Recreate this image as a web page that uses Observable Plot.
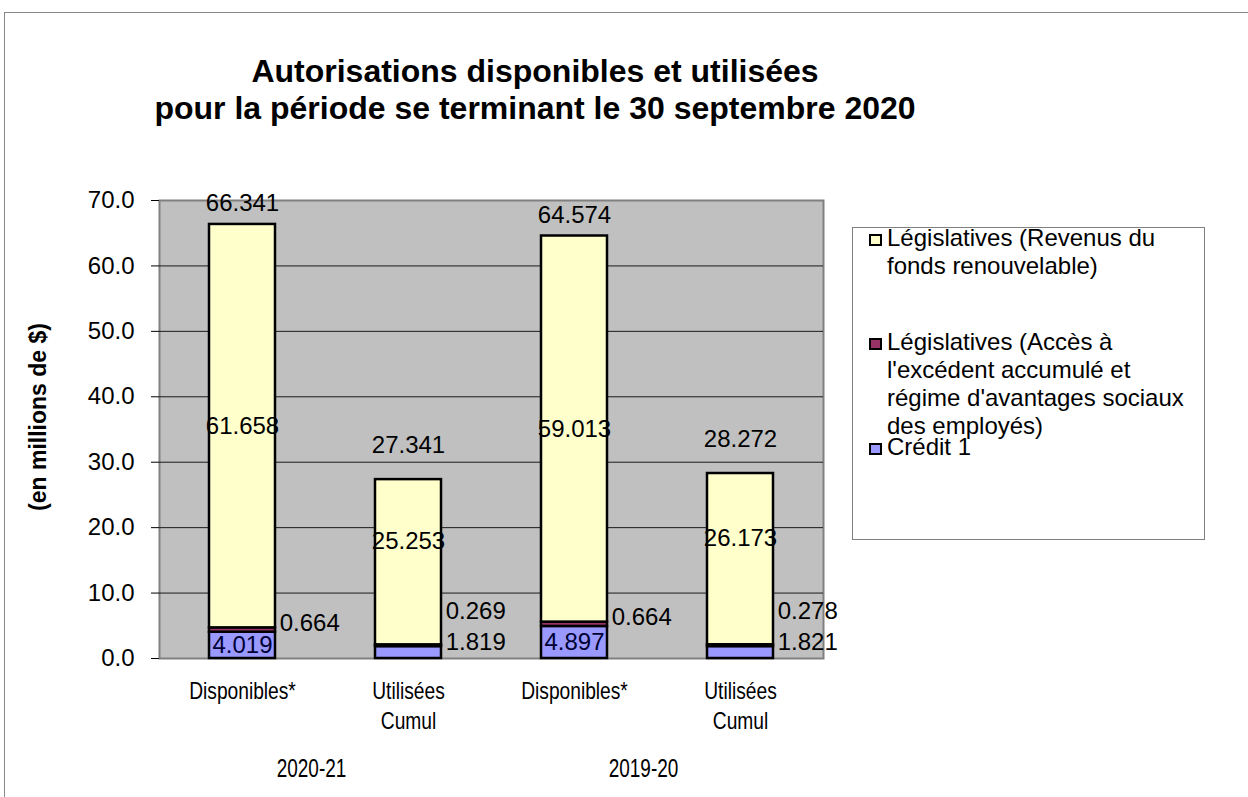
<!DOCTYPE html>
<html><head><meta charset="utf-8">
<script src="https://cdn.jsdelivr.net/npm/d3@7"></script>
<script src="https://cdn.jsdelivr.net/npm/@observablehq/plot@0.6"></script>
<style>
body{margin:0;background:#fff;font-family:"Liberation Sans",Arial,sans-serif;color:#000;}
#wrap{position:relative;width:1248px;height:797px;overflow:hidden;}
#border{position:absolute;left:4px;top:12px;width:1400px;height:1000px;border-left:1px solid #888;border-top:1px solid #888;}
#chart{position:absolute;left:0;top:0;}
#title{position:absolute;left:0;top:53px;width:1070px;text-align:center;font-weight:bold;font-size:32px;line-height:37px;white-space:nowrap;}
#ylabel{position:absolute;left:38px;top:417px;transform:translate(-50%,-50%) rotate(-90deg);font-weight:bold;font-size:23px;white-space:nowrap;}
#legend{position:absolute;left:852px;top:227px;width:353px;height:313px;border:1px solid #808080;box-sizing:border-box;background:#fff;}
.entry{position:absolute;left:0;}
.swatch{position:absolute;left:16px;width:9px;height:8px;border:2px solid #000;}
.ltext{position:absolute;left:34px;top:0;font-size:24px;line-height:28px;white-space:pre;}
</style></head><body>
<div id="wrap">
  <div id="border"></div>
  <div id="chart"></div>
  <div id="title">Autorisations disponibles et utilisées<br>pour la période se terminant le 30 septembre 2020</div>
  <div id="ylabel">(en millions de $)</div>
  <div id="legend"></div>
</div>
<script>
// ---- data ----
const years = ["2020-21", "2019-20"];
const types = ["Disponibles*", "Utilisées\nCumul"];
const seriesNames = [
  "Crédit 1",
  "Législatives (Accès à l'excédent accumulé et régime d'avantages sociaux des employés)",
  "Législatives (Revenus du fonds renouvelable)"
];
const seriesColors = ["#9999FF", "#993366", "#FFFFCC"];
const legendLabels = [
  "Législatives (Revenus du\nfonds renouvelable)",
  "Législatives (Accès à\nl'excédent accumulé et\nrégime d'avantages sociaux\ndes employés)",
  "Crédit 1"
];
const legendSeries = [2, 1, 0];
const credit1 = [4.019, 1.819, 4.897, 1.821];
const acces   = [0.664, 0.269, 0.664, 0.278];
const revenus = [61.658, 25.253, 59.013, 26.173];
const totals  = [66.341, 27.341, 64.574, 28.272];
const yTicks  = [0, 10, 20, 30, 40, 50, 60, 70];

// ---- build tables ----
const bars = years.flatMap(y => types.map(t => ({year: y, type: t, key: y + "|" + t})));
bars.forEach((b, i) => b.total = totals[i]);
const keys = bars.map(b => b.key);
const seriesValues = [credit1, acces, revenus];
const segs = [];
bars.forEach((b, i) => {
  let base = 0;
  seriesValues.forEach((vals, s) => {
    const v = vals[i];
    segs.push({...b, s, series: seriesNames[s], value: v, y1: base, y2: base + v, mid: base + v / 2});
    base += v;
  });
});
const isD = d => d.type === types[0];
const fmt = d => d.value.toFixed(3);

const W = 1248, H = 797, ML = 159, MR = 425, MT = 200, MB = 139;
const step = (W - ML - MR) / keys.length;
const side = step * 0.2 + 4;
const LF = 24;

const chart = Plot.plot({
  width: W, height: H,
  marginLeft: ML, marginRight: MR, marginTop: MT, marginBottom: MB,
  style: {fontFamily: "'Liberation Sans', Arial, sans-serif", fontSize: "22px", color: "#000", background: "transparent", overflow: "visible"},
  x: {type: "band", domain: keys, paddingInner: 0.6, paddingOuter: 0.3, align: 0.5},
  y: {domain: [0, 70], nice: false},
  color: {domain: seriesNames, range: seriesColors},
  marks: [
    Plot.frame({fill: "#C0C0C0", stroke: "#808080", strokeWidth: 2}),
    Plot.ruleY(yTicks.slice(1, -1), {stroke: "#1a1a1a", strokeWidth: 1}),
    Plot.barY(segs, {x: "key", y1: "y1", y2: "y2", fill: "series", stroke: "#000", strokeWidth: 2.5, inset: 0}),
    // Revenus labels
    Plot.text(segs.filter(d => d.s === 2 && isD(d)), {x: "key", y: "mid", text: fmt, fontSize: LF}),
    Plot.text(segs.filter(d => d.s === 2 && !isD(d)), {x: "key", y: "mid", text: fmt, fontSize: LF, dy: -21}),
    // Accès labels
    Plot.text(segs.filter(d => d.s === 1 && isD(d)), {x: "key", y: "mid", text: fmt, fontSize: LF, textAnchor: "start", dx: side, dy: -7}),
    Plot.text(segs.filter(d => d.s === 1 && !isD(d)), {x: "key", y: "mid", text: fmt, fontSize: LF, textAnchor: "start", dx: side, dy: -34}),
    // Crédit labels
    Plot.text(segs.filter(d => d.s === 0 && isD(d)), {x: "key", y: "mid", text: fmt, fontSize: LF, fill: "#000033"}),
    Plot.text(segs.filter(d => d.s === 0 && !isD(d)), {x: "key", y: "mid", text: fmt, fontSize: LF, textAnchor: "start", dx: side, dy: -10}),
    // Totals
    Plot.text(bars.filter(isD), {x: "key", y: "total", text: d => d.total.toFixed(3), fontSize: LF, dy: -21}),
    Plot.text(bars.filter(d => !isD(d)), {x: "key", y: "total", text: d => d.total.toFixed(3), fontSize: LF, dy: -34}),
    // Axes
    Plot.axisY({ticks: yTicks, tickFormat: d3.format(".1f"), tickSize: 8, tickPadding: 17, fontSize: 24, label: null}),
    Plot.axisX({tickSize: 0, tickPadding: 20, fontSize: 24, lineHeight: 1.22, label: null, tickFormat: k => k.split("|")[1]}),
    // Year group labels
    Plot.text(years, {x: y => y + "|" + types[0], text: d => d, frameAnchor: "bottom", dx: step / 2 - 14, dy: 118, fontSize: 25})
  ]
});
document.getElementById("chart").appendChild(chart);

// narrow (condensed) look of the bottom labels, as in the reference
function squeeze(el, sx) {
  const tr = el.getAttribute("transform");
  if (tr) {
    el.setAttribute("transform", tr + ` scale(${sx},1)`);
  } else {
    const x = +el.getAttribute("x") || 0, y = +el.getAttribute("y") || 0;
    el.removeAttribute("x"); el.removeAttribute("y");
    el.setAttribute("transform", `translate(${x},${y}) scale(${sx},1)`);
  }
}
chart.querySelectorAll("text").forEach(t => {
  const s = t.textContent;
  if (years.includes(s)) squeeze(t, 0.76);
  else if (types.map(d => d.replace("\n", "")).includes(s)) squeeze(t, 0.8);
});

// ---- legend ----
const legend = document.getElementById("legend");
const entryTops = [-4, 100, 205];
legendSeries.forEach((s, i) => {
  const e = document.createElement("div");
  e.className = "entry";
  e.style.top = entryTops[i] + "px";
  const sw = document.createElement("div");
  sw.className = "swatch";
  sw.style.background = seriesColors[s];
  sw.style.top = "10px";
  const t = document.createElement("div");
  t.className = "ltext";
  t.textContent = legendLabels[i];
  e.appendChild(sw); e.appendChild(t);
  legend.appendChild(e);
});
</script>
</body></html>
